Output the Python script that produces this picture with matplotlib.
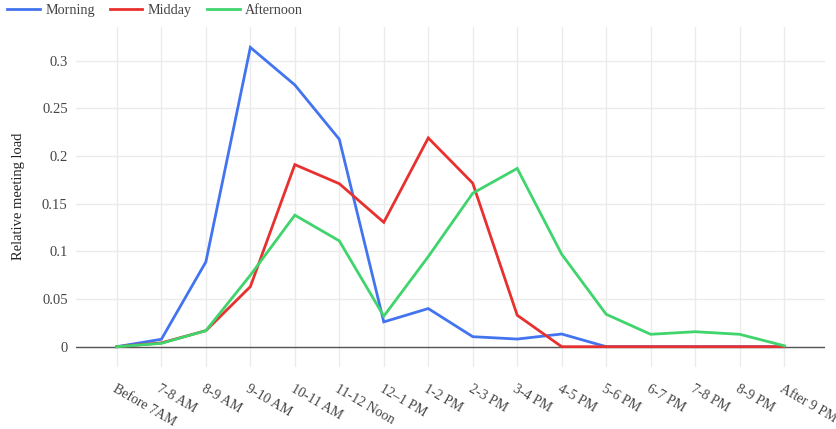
import matplotlib.pyplot as plt
import numpy as np

TIME_SLOTS = [
    "Before 7AM", "7-8 AM", "8-9 AM", "9-10 AM", "10-11 AM", "11-12 Noon",
    "12–1 PM", "1-2 PM", "2-3 PM", "3-4 PM", "4-5 PM", "5-6 PM",
    "6-7 PM", "7-8 PM", "8-9 PM", "After 9 PM",
]

MORNING = [0.0, 0.0078, 0.089, 0.314, 0.2746, 0.2176, 0.026, 0.040,
           0.0105, 0.008, 0.0133, 0.0, 0.0, 0.0, 0.0, 0.0]
MIDDAY = [0.0, 0.004, 0.0168, 0.063, 0.191, 0.171, 0.1305, 0.219,
          0.1715, 0.033, 0.0, 0.0, 0.0, 0.0, 0.0, 0.0]
AFTERNOON = [0.0, 0.0035, 0.0168, 0.075, 0.138, 0.111, 0.032, 0.0945,
             0.161, 0.187, 0.097, 0.034, 0.013, 0.0157, 0.013, 0.001]

Y_TICKS = [0, 0.05, 0.1, 0.15, 0.2, 0.25, 0.3]
Y_TICK_LABELS = ["0", "0.05", "0.1", "0.15", "0.2", "0.25", "0.3"]

SERIES = [
    ("Morning", MORNING, "#4374f0"),
    ("Midday", MIDDAY, "#e8302f"),
    ("Afternoon", AFTERNOON, "#3fd46c"),
]

TEXT_COLOR = "#444444"

plt.rcParams["font.family"] = ["Liberation Serif", "DejaVu Serif"]

fig = plt.figure(figsize=(8.37, 4.29), dpi=100)
ax = fig.add_axes([76 / 837, 1 - 366.7 / 429, (825 - 76) / 837, (366.7 - 26.7) / 429])

x = np.arange(len(TIME_SLOTS))
for name, values, color in SERIES:
    ax.plot(x, values, color=color, linewidth=2, label=name, solid_joinstyle="miter")

ax.set_xlim(-0.92, len(TIME_SLOTS) - 1 + 0.92)
ax.set_ylim(-0.0210, 0.3357)

ax.set_yticks(Y_TICKS)
ax.set_yticklabels(Y_TICK_LABELS, fontsize=10.5, color=TEXT_COLOR)
ax.set_xticks(x)
ax.set_xticklabels(TIME_SLOTS, fontsize=10, color=TEXT_COLOR,
                   rotation=-30, ha="left", va="top", rotation_mode="anchor")
ax.tick_params(axis="both", length=0)
ax.tick_params(axis="x", pad=11)
ax.tick_params(axis="y", pad=6)

ax.grid(True, color="#ebebeb", linewidth=1)
ax.set_axisbelow(True)
ax.axhline(0, color="#555555", linewidth=1, zorder=1.5)
for spine in ax.spines.values():
    spine.set_visible(False)

ax.set_ylabel("Relative meeting load", fontsize=10.5, color="#222222", labelpad=12)

fig.legend(loc="upper left", bbox_to_anchor=(7 / 837, 1 - 4 / 429), ncol=3, frameon=False,
           fontsize=10.2, handlelength=2.3, columnspacing=1.05, handletextpad=0.4,
           borderpad=0, borderaxespad=0, labelcolor=TEXT_COLOR)

fig.savefig("out.png", dpi=100)
